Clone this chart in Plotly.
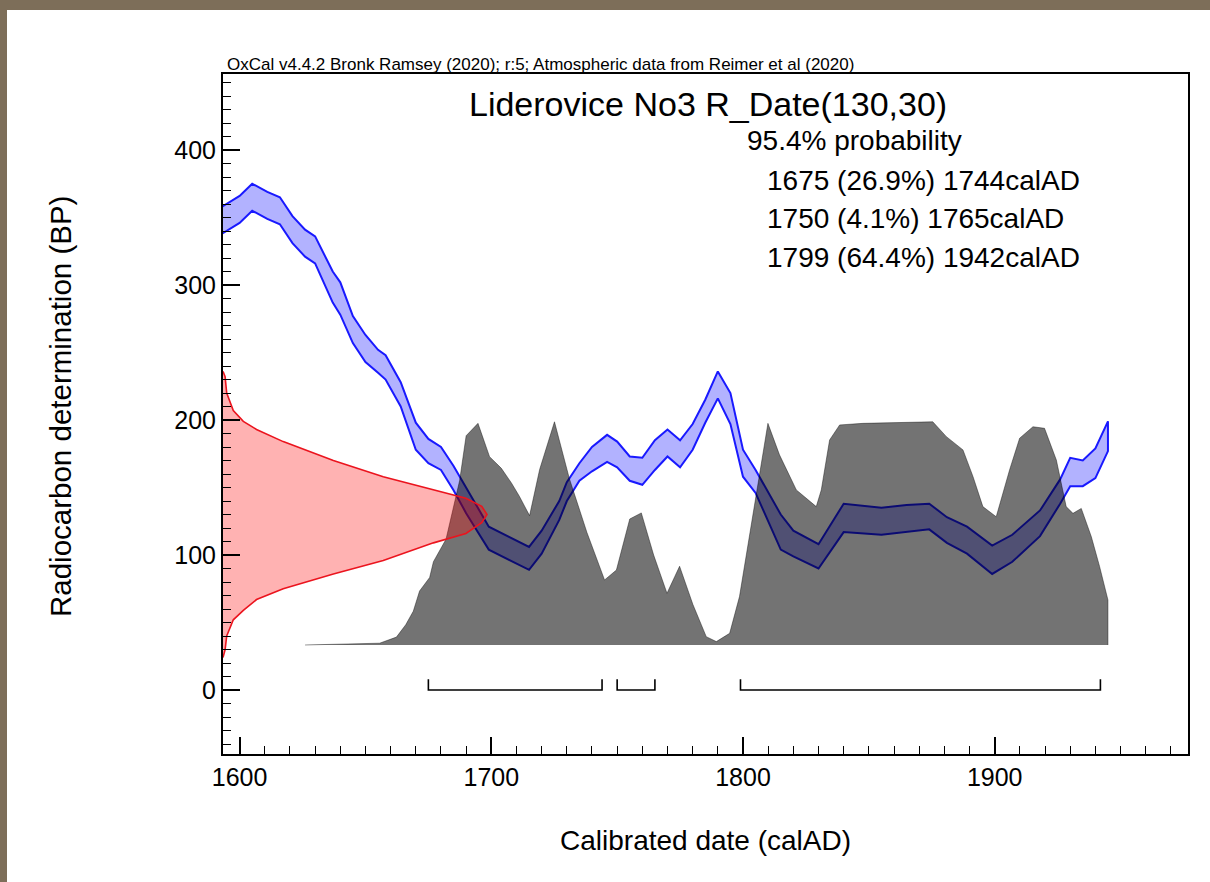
import plotly.graph_objects as go

# calibration curve band (cal AD vs BP), upper / lower edge
curve_year = [1593, 1600, 1605, 1611, 1616, 1621, 1626, 1630, 1637, 1640,
              1645, 1650, 1655, 1658, 1664, 1670, 1675, 1680, 1685, 1690,
              1695, 1699, 1715, 1720, 1727, 1730, 1735, 1740, 1746, 1750,
              1755, 1760, 1765, 1770, 1775, 1780, 1785, 1790, 1795, 1800,
              1805, 1815, 1820, 1830, 1840, 1855, 1865, 1874, 1881, 1889,
              1899, 1907, 1918, 1926, 1930, 1935, 1940, 1945]
curve_hi = [358, 366, 375, 369, 365, 351, 341, 336, 310, 302,
            277, 263, 252, 248, 228, 198, 186, 180, 166, 150,
            134, 121, 106, 118, 140, 154, 168, 180, 189, 184,
            173, 172, 185, 193, 185, 197, 215, 236, 220, 178,
            163, 130, 118, 108, 138, 135, 137, 138, 128, 121,
            107, 115, 133, 156, 172, 170, 179, 199]
curve_lo = [338, 346, 355, 349, 345, 331, 321, 316, 287, 278,
            257, 243, 235, 230, 210, 178, 168, 163, 148, 131,
            116, 104, 89, 101, 126, 140, 155, 162, 169, 165,
            155, 152, 163, 173, 165, 178, 198, 216, 197, 158,
            146, 104, 99, 90, 117, 115, 117, 119, 109, 101,
            86, 95, 114, 138, 151, 151, 157, 177]

# radiocarbon measurement R_Date(130,30), relative density
red_bp = [236, 232, 220, 207, 199, 193, 184, 170, 158, 148, 142, 136, 130,
          124, 116, 109, 96, 86, 75, 67, 59, 52, 40, 30, 24]
red_density = [0.0, 0.008, 0.014, 0.039, 0.077, 0.127, 0.228, 0.418, 0.607,
               0.797, 0.92, 0.98, 1.0, 0.98, 0.92, 0.797, 0.607, 0.418,
               0.228, 0.127, 0.077, 0.039, 0.014, 0.008, 0.0]

# calibrated distribution, relative probability
dist_year = [1626, 1655.6, 1662.3, 1666, 1669, 1671.5, 1675.5, 1677, 1682, 1687.4,
             1690, 1694.7, 1699.3, 1704, 1708, 1711.2, 1715.2, 1719.2, 1725.1, 1731,
             1738, 1745, 1749.7, 1755, 1759.6, 1764.5, 1769.8, 1774.8, 1780.1, 1785.4,
             1789.4, 1794.7, 1798.6, 1804, 1809.9, 1814.5, 1821.2, 1829.1, 1831.1, 1834.4,
             1838.4, 1847.6, 1860.9, 1875.4, 1880.8, 1887.4, 1891.4, 1895.3, 1900.6, 1905.9,
             1909.9, 1915.2, 1919.8, 1924.5, 1928.4, 1931.1, 1934.4, 1938.4, 1941.7, 1945,
             1945]
dist_prob = [0, 0.008, 0.035, 0.09, 0.15, 0.24, 0.30, 0.37, 0.47, 0.73,
             0.93, 0.985, 0.837, 0.785, 0.72, 0.66, 0.575, 0.78, 0.992, 0.74,
             0.50, 0.289, 0.333, 0.56, 0.587, 0.40, 0.23, 0.35, 0.18, 0.037,
             0.015, 0.052, 0.215, 0.585, 0.985, 0.845, 0.689, 0.615, 0.689, 0.911,
             0.978, 0.985, 0.988, 0.992, 0.926, 0.867, 0.748, 0.615, 0.570, 0.778,
             0.919, 0.970, 0.963, 0.822, 0.615, 0.585, 0.607, 0.481, 0.348, 0.2,
             0]

# 95.4% ranges
range_from = [1675, 1750, 1799]
range_to = [1744, 1765, 1942]
range_pct = [26.9, 4.1, 64.4]

W, H = 1210, 882
ML, MR, MT, MB = 223, 22, 74, 128
FONT = "Liberation Sans, Arial, sans-serif"


def px(x):
    return (x - ML) / (W - ML - MR)


def py(y):
    return (H - MB - y) / (H - MT - MB)


fig = go.Figure()

fig.add_trace(go.Scatter(
    x=red_density, y=red_bp, xaxis="x2", yaxis="y",
    mode="lines", fill="tozerox",
    fillcolor="rgba(255,0,0,0.3)",
    line=dict(color="rgb(235,20,30)", width=1.6),
    hoverinfo="skip"))

fig.add_trace(go.Scatter(
    x=curve_year + curve_year[::-1], y=curve_hi + curve_lo[::-1],
    mode="lines", fill="toself",
    fillcolor="rgba(0,0,255,0.3)",
    line=dict(color="rgb(25,25,255)", width=2),
    hoverinfo="skip"))

fig.add_trace(go.Scatter(
    x=dist_year, y=dist_prob, xaxis="x", yaxis="y2",
    mode="lines", fill="tozeroy",
    fillcolor="rgba(0,0,0,0.55)",
    line=dict(color="rgba(0,0,0,0.4)", width=1),
    hoverinfo="skip"))

for a, b in zip(range_from, range_to):
    fig.add_trace(go.Scatter(
        x=[a, a, b, b], y=[8, 0, 0, 8], mode="lines",
        line=dict(color="black", width=1.6), hoverinfo="skip"))

ann = [
    dict(text="OxCal v4.4.2 Bronk Ramsey (2020); r:5; Atmospheric data from Reimer et al (2020)",
         x=px(225), y=py(64), size=17),
    dict(text="Liderovice No3 R_Date(130,30)", x=px(467), y=py(104), size=34),
    dict(text="95.4% probability", x=px(745), y=py(140), size=28),
]
for i, (a, p, b) in enumerate(zip(range_from, range_pct, range_to)):
    ann.append(dict(text=f"{a} ({p}%) {b}calAD", x=px(765), y=py(180 + 38.5 * i), size=28))

annotations = [dict(text=a["text"], x=a["x"], y=a["y"], xref="paper", yref="paper",
                    xanchor="left", yanchor="middle", showarrow=False,
                    font=dict(family=FONT, size=a["size"], color="black")) for a in ann]
annotations.append(dict(text="Radiocarbon determination (BP)", x=px(60), y=py(407),
                        xref="paper", yref="paper", textangle=-90, showarrow=False,
                        xanchor="center", yanchor="middle",
                        font=dict(family=FONT, size=29.5, color="black")))
annotations.append(dict(text="Calibrated date (calAD)", x=px(705), y=py(840),
                        xref="paper", yref="paper", showarrow=False,
                        xanchor="center", yanchor="middle",
                        font=dict(family=FONT, size=28, color="black")))

shapes = [
    dict(type="rect", xref="paper", yref="paper", x0=px(-5), x1=px(7), y0=py(H + 5), y1=py(-5),
         fillcolor="#7d6e59", line=dict(width=0), layer="above"),
    dict(type="rect", xref="paper", yref="paper", x0=px(-5), x1=px(W + 5), y0=py(10), y1=py(-5),
         fillcolor="#7d6e59", line=dict(width=0), layer="above"),
]

axis_style = dict(ticks="inside", ticklen=17, tickwidth=1.5, tickcolor="black",
                  minor=dict(dtick=10, ticks="inside", ticklen=8, tickwidth=1.2, tickcolor="black"),
                  showline=True, linewidth=2, linecolor="black", mirror=True,
                  showgrid=False, zeroline=False,
                  tickfont=dict(family=FONT, size=25, color="black"))

fig.update_layout(
    width=W, height=H,
    margin=dict(l=ML, r=MR, t=MT, b=MB),
    paper_bgcolor="white", plot_bgcolor="white",
    showlegend=False,
    font=dict(family=FONT, color="black"),
    annotations=annotations,
    shapes=shapes,
    xaxis=dict(range=[1593.4, 1976.8], tick0=1600, dtick=100, **axis_style),
    yaxis=dict(range=[-47.4, 456.3], tick0=0, dtick=100, **axis_style),
    xaxis2=dict(overlaying="x", range=[0, 3.655], visible=False, anchor="y"),
    yaxis2=dict(overlaying="y", range=[-0.4845, 2.5377], visible=False, anchor="x"),
)

fig.write_html("out.html", config={"displayModeBar": False},
               post_script="document.body.style.margin='0px';")
